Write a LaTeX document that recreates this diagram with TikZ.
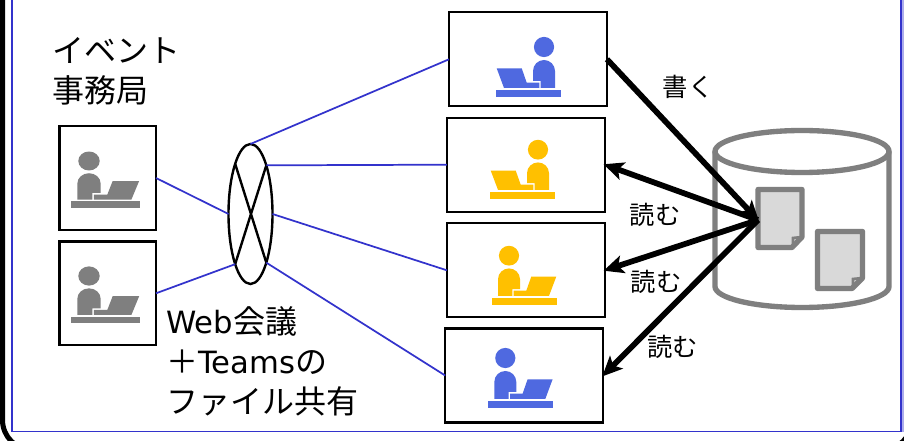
\documentclass[tikz,border=0pt]{standalone}
\usepackage{fontspec}
\setmainfont{Noto Sans CJK JP}
\newfontfamily\latn{DejaVu Sans}
\usetikzlibrary{shapes.geometric,arrows.meta}
\definecolor{linkblue}{HTML}{3333CC}
\definecolor{iconblue}{HTML}{4F69E0}
\definecolor{iconyellow}{HTML}{FFC000}
\definecolor{icongray}{HTML}{7F7F7F}
\definecolor{docfill}{HTML}{D9D9D9}
\tikzset{
  x=0.75pt,y=-0.75pt,
  box/.style={draw=black,fill=white,line width=1.6pt,inner sep=0pt,outer sep=0pt},
  link/.style={draw=linkblue,line width=1.3pt},
  thick arrow/.style={draw=black,line width=4.3pt,-{Stealth[length=15pt,width=13.5pt,inset=3.5pt]},shorten >=-1pt},
  bigtext/.style={font=\fontsize{24pt}{30pt}\selectfont,inner sep=0pt,anchor=west,align=left},
  smalltext/.style={font=\fontsize{19pt}{24pt}\selectfont,inner sep=0pt},
  cyl/.style={draw=icongray,line width=4pt},
  docsheet/.style={draw=icongray,fill=docfill,line width=4pt,line join=round},
  pics/worker/.style={code={
    \fill[#1] (0,0) circle[radius=10.1];
    \fill[#1] (-11,41) -- (-11,24) arc[start angle=180,end angle=360,radius=11] -- (11,34) -- (3.3,34) -- (3.3,41) -- cycle;
    \fill[#1] (22.3,21.3) -- (47.3,21.3) -- (40,41) -- (4.7,41) -- (4.7,35.7) -- (17.3,35.7) -- cycle;
    \fill[#1] (-17,43) rectangle (48,50);
  }}
}
\begin{document}
\begin{tikzpicture}
\useasboundingbox (0,0) rectangle (904,441);
\clip (0,0) rectangle (904,441);
\fill[white] (0,0) rectangle (904,441);
% frames
\draw[black,line width=3.8pt,rounded corners=22.5pt] (2.5,-30) -- (2.5,450) -- (912,450) -- (912,-30);
\fill[linkblue!40!white] (902,0) rectangle (904,432);
\draw[linkblue,line width=1pt] (12,-5) -- (12,431.5) -- (901,431.5) -- (901,-5);
% boxes
\node[box,minimum width=72.4pt,minimum height=77.6pt] (l1) at (107.75,178) {};
\node[box,minimum width=72.4pt,minimum height=77.6pt] (l2) at (107.75,293.3) {};
\node[box,minimum width=118.5pt,minimum height=70.5pt] (b1) at (528,59.3) {};
\node[box,minimum width=118.5pt,minimum height=70.5pt] (b2) at (525.85,164.7) {};
\node[box,minimum width=118.5pt,minimum height=70.5pt] (b3) at (525.85,270.3) {};
\node[box,minimum width=118.5pt,minimum height=70.5pt] (b4) at (524.2,375.5) {};
% icons
\pic[xscale=1.06,yscale=.94] at (89,161) {worker=icongray};
\pic[xscale=1.06,yscale=.95] at (89,276) {worker=icongray};
\pic[xscale=-1] at (544,47) {worker=iconblue};
\pic[xscale=-1,yscale=.98] at (538,149.7) {worker=iconyellow};
\pic[yscale=.98] at (509,255.7) {worker=iconyellow};
\pic at (505.3,358) {worker=iconblue};
% meeting hub
\node[ellipse,draw=black,line width=1.8pt,minimum width=33pt,minimum height=105pt,inner sep=0pt,outer sep=0pt] (e) at (250.5,214) {};
\draw[black,line width=1.8pt] (e.107.4) -- (e.-72.6) (e.72.6) -- (e.-107.4);
\draw[link] (b1.west) -- (e.north);
\draw[link] (b2.west) -- (e.72.6);
\draw[link] (b3.west) -- (e.east);
\draw[link] (b4.west) -- (e.-72.6);
\draw[link] (l1.east) -- (e.west);
\draw[link] (l2.east) -- (e.-107.4);
% storage
\draw[cyl,fill=white] (715,151.5) -- (715,286.5) arc[start angle=180,end angle=90,x radius=87,y radius=21] arc[start angle=90,end angle=0,x radius=87,y radius=21] -- (889,151.5);
\draw[cyl,fill=white] (802,151.5) ellipse[x radius=87,y radius=21];
\draw[docsheet] (758,189.5) -- (802,189.5) -- (802,237) -- (792,247.5) -- (758,247.5) -- cycle;
\draw[icongray,line width=2pt] (793,247) -- (793,238) -- (802,237);
\draw[docsheet] (817.5,231.5) -- (862.5,231.5) -- (862.5,278) -- (852,288.5) -- (817.5,288.5) -- cycle;
\draw[icongray,line width=2pt] (853,288) -- (853,279) -- (862.5,278);
\coordinate (hub) at (758,220);
% arrows
\draw[thick arrow] (b1.east) -- (hub);
\draw[thick arrow] (hub) -- (b2.east);
\draw[thick arrow] (hub) -- (b3.east);
\draw[thick arrow] (hub) -- (b4.east);
% labels
\node[bigtext] (t1) at (52,71) {イベント\\事務局};
\node[bigtext] (t2) at (166,361.5) {{\fontsize{23pt}{30pt}\selectfont\latn Web}会議\\＋{\fontsize{23pt}{30pt}\selectfont\latn Teams}の\\ファイル共有};
\node[smalltext,anchor=west] (w) at (662.5,86.7) {書く};
\node[smalltext] (r1) at (655,215) {読む};
\node[smalltext] (r2) at (656,281.7) {読む};
\node[smalltext] (r3) at (672.7,346.7) {読む};
\end{tikzpicture}
\end{document}
